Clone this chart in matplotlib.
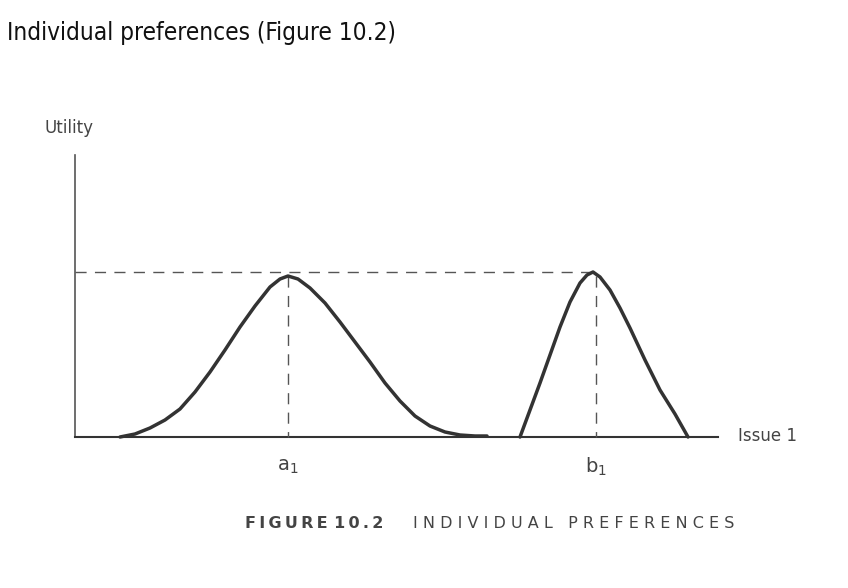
import matplotlib
matplotlib.use("Agg")
import matplotlib.pyplot as plt

# Curve A (pixel-space readings)
curve_a_x = [120, 135, 150, 165, 180, 195, 210, 225, 240, 255, 270, 280, 288, 298, 310, 325, 340, 355, 370, 385, 400, 415, 430, 445, 460, 475, 487]
curve_a_y = [437, 434, 428, 420, 409, 392, 372, 350, 327, 306, 287, 279, 276, 279, 288, 303, 322, 342, 362, 383, 401, 416, 426, 432, 435, 436, 436]
# Curve B
curve_b_x = [520, 530, 540, 550, 560, 570, 580, 587, 593, 600, 610, 620, 630, 645, 660, 675, 688]
curve_b_y = [437, 410, 383, 355, 327, 302, 283, 275, 272, 277, 290, 308, 328, 360, 390, 414, 437]
peak_labels = ["a$_1$", "b$_1$"]
peak_x = [288, 596]

fig = plt.figure(figsize=(8.48, 5.88), dpi=100)
ax = fig.add_axes([0, 0, 1, 1])
ax.set_xlim(0, 848)
ax.set_ylim(588, 0)
ax.axis("off")

ax.text(7, 33, "Individual preferences (Figure 10.2)", fontsize=17.5, va="center", ha="left",
        color="#111", fontstretch="condensed")

# axes
ax.plot([75, 75], [155, 437], color="#555", lw=1.2)
ax.plot([75, 718], [437, 437], color="#333", lw=1.5)
ax.text(44, 128, "Utility", fontsize=12, color="#444", va="center")
ax.text(738, 436, "Issue 1", fontsize=12, color="#444", va="center")

# dashed guides
ax.plot([75, 595], [272, 272], color="#555", lw=1, ls=(0, (8, 6)))
for px in peak_x:
    ax.plot([px, px], [276, 437], color="#555", lw=1, ls=(0, (8, 6)))

ax.plot(curve_a_x, curve_a_y, color="#333", lw=2.5, solid_capstyle="round", solid_joinstyle="round")
ax.plot(curve_b_x, curve_b_y, color="#333", lw=2.5, solid_capstyle="round", solid_joinstyle="round")

for lbl, px in zip(peak_labels, peak_x):
    ax.text(px, 467, lbl, fontsize=14, color="#444", ha="center", va="center")

ax.text(245, 523, "F I G U R E  1 0 . 2".replace(" ", "\u2009"), fontsize=11.5, fontweight="bold",
        color="#444", va="center")
ax.text(413, 523, "I N D I V I D U A L   P R E F E R E N C E S", fontsize=11.5, color="#444", va="center")

fig.savefig("out.png", dpi=100)
